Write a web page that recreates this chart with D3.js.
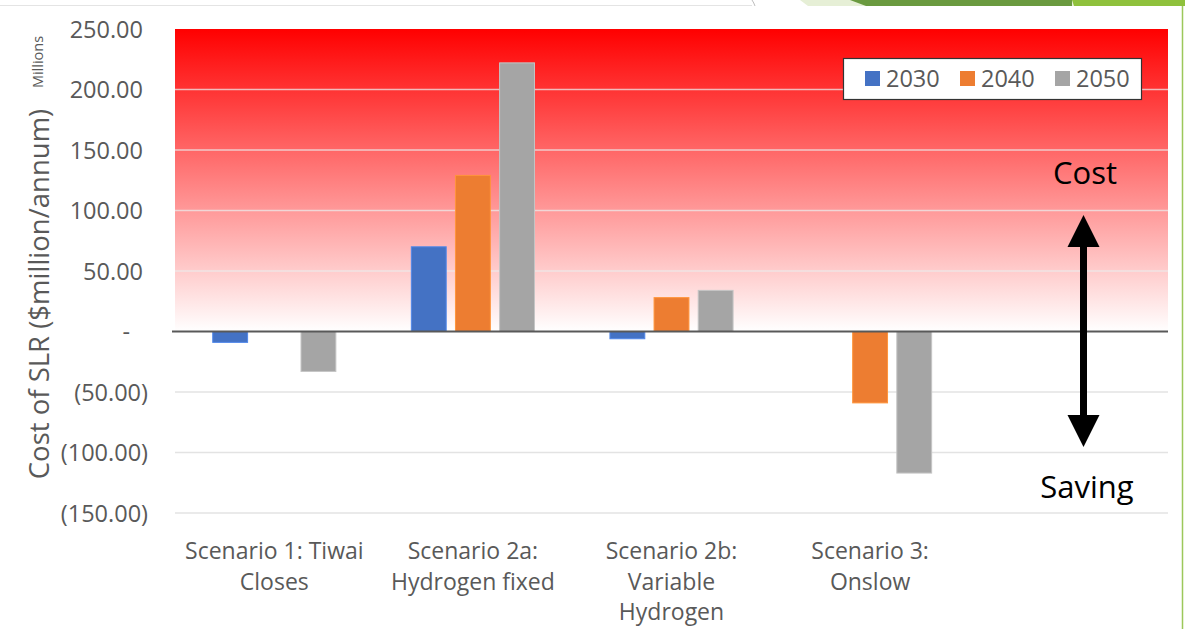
<!DOCTYPE html>
<html><head><meta charset="utf-8">
<script src="https://cdn.jsdelivr.net/npm/d3@7"></script>
<style>
html,body{margin:0;padding:0;background:#fff;}
svg{display:block;}
text{font-family:"Open Sans",sans-serif;}
</style></head>
<body>
<svg id="chart" width="1185" height="629"></svg>
<script>
// ---- data ----
const categories = ["Scenario 1: Tiwai Closes", "Scenario 2a: Hydrogen fixed", "Scenario 2b: Variable Hydrogen", "Scenario 3: Onslow", ""];
const categoryLines = [["Scenario 1: Tiwai", "Closes"], ["Scenario 2a:", "Hydrogen fixed"], ["Scenario 2b:", "Variable", "Hydrogen"], ["Scenario 3:", "Onslow"], []];
const seriesNames = ["2030", "2040", "2050"];
const values2030 = [-9, 70, -6, 0, null];
const values2040 = [0, 129, 28, -59, null];
const values2050 = [-33, 222, 34, -117, null];
const yTicks = [250, 200, 150, 100, 50, 0, -50, -100, -150];
const seriesColors = ["#4472C4", "#ED7D31", "#A5A5A5"];

const svg = d3.select("#chart");
const pLeft = 175, pRight = 1168, pTop = 29, pBottom = 513;

// slide decorations
svg.append("line").attr("x1",0).attr("x2",752).attr("y1",5.5).attr("y2",5.5).attr("stroke","#e4e4e4").attr("stroke-width",1);
svg.append("path").attr("d","M752,0 Q754,3 755,6").attr("fill","none").attr("stroke","#bdbdbd").attr("stroke-width",1);
svg.append("path").attr("d","M800,0 L1185,0 L1185,6 L808,6 Z").attr("fill","#e6efd6");
svg.append("path").attr("d","M850,0 L1072,0 L1072,6 L866,6 Z").attr("fill","#6a9a3f");
svg.append("path").attr("d","M1072,0 L1185,0 L1185,6 L1074,6 Z").attr("fill","#8fc13c");
svg.append("line").attr("x1",1182.5).attr("x2",1182.5).attr("y1",6).attr("y2",629).attr("stroke","#9cc85a").attr("stroke-width",1.5);

const x = d3.scaleBand().domain(categories).range([pLeft, pRight]).padding(0);
const bw = x.bandwidth();
const xs = d3.scaleBand().domain(seriesNames).range([bw*0.19, bw*0.81]).paddingInner(0.21).paddingOuter(0);
const y = d3.scaleLinear().domain([-150, 250]).range([pBottom, pTop]);

// gradient background for positive region
const defs = svg.append("defs");
const grad = defs.append("linearGradient").attr("id","costGrad").attr("x1",0).attr("x2",0).attr("y1",0).attr("y2",1);
grad.append("stop").attr("offset","0%").attr("stop-color","#ff0000");
grad.append("stop").attr("offset","100%").attr("stop-color","#ffffff");
svg.append("rect").attr("x",pLeft).attr("y",y(250)).attr("width",pRight-pLeft).attr("height",y(0)-y(250)).attr("fill","url(#costGrad)");

// gridlines
const gridColor = (v)=> v>0 ? "rgba(235,235,235,0.75)" : "#e3e3e3";
svg.append("g").selectAll("line").data(yTicks.filter(v=>v!==0 && v!==250)).join("line")
  .attr("x1",pLeft).attr("x2",pRight).attr("y1",d=>y(d)).attr("y2",d=>y(d))
  .attr("stroke",d=>gridColor(d)).attr("stroke-width",1.5);

// y axis labels (accounting format)
const fmt = v => v===0 ? "-" : (v<0 ? "(" + d3.format(".2f")(-v) + ")" : d3.format(".2f")(v));
const yAxis = d3.axisLeft(y).tickValues(yTicks).tickFormat(fmt).tickSize(0).tickPadding(0);
const ya = svg.append("g").attr("transform",`translate(148,0)`).call(yAxis);
ya.select(".domain").remove();
ya.selectAll("text").attr("fill","#595959").style("font-size","23.5px").attr("dy","0.35em")
  .attr("dx", d=> d===0 ? "-18px" : (d>0 ? "-5px" : "0px"));

// bars
const series = [values2030, values2040, values2050];
const barData = [];
series.forEach((vals, si) => vals.forEach((v, ci) => { if (v !== null && v !== 0) barData.push({cat:categories[ci], s:seriesNames[si], v, color:seriesColors[si]}); }));
svg.append("g").selectAll("rect").data(barData).join("rect")
  .attr("x", d => x(d.cat) + xs(d.s))
  .attr("width", xs.bandwidth())
  .attr("y", d => y(Math.max(0, d.v)))
  .attr("height", d => Math.abs(y(d.v) - y(0)))
  .attr("fill", d => d.color)
  .attr("stroke", d => d3.color(d.color).brighter(0.5))
  .attr("stroke-width", 1);

// zero axis
svg.append("line").attr("x1",pLeft-3).attr("x2",pRight).attr("y1",y(0)).attr("y2",y(0)).attr("stroke","#595959").attr("stroke-width",2);

// category labels
const cl = svg.append("g");
categories.forEach((c, i) => {
  const t = cl.append("text").attr("x", x(c) + bw/2).attr("y", 551).attr("text-anchor","middle")
    .attr("fill","#595959").style("font-size","23px");
  categoryLines[i].forEach((ln, j) => t.append("tspan").attr("x", x(c)+bw/2).attr("dy", j===0 ? "0.35em" : "30.5px").text(ln));
});

// y axis title
svg.append("text").attr("transform","translate(39,294) rotate(-90)").attr("text-anchor","middle")
  .attr("dy","0.35em").attr("fill","#595959").style("font-size","27.5px").text("Cost of SLR ($million/annum)");
svg.append("text").attr("transform","translate(38,62) rotate(-90)").attr("text-anchor","middle")
  .attr("dy","0.35em").attr("fill","#595959").style("font-size","14.5px").text("Millions");

// legend
const lg = svg.append("g");
lg.append("rect").attr("x",843.5).attr("y",58.5).attr("width",298).attr("height",41).attr("fill","#fff").attr("stroke","#333").attr("stroke-width",1.2);
const legX = [865, 960, 1055];
seriesNames.forEach((s, i) => {
  lg.append("rect").attr("x",legX[i]).attr("y",71).attr("width",15).attr("height",15).attr("fill",seriesColors[i]);
  lg.append("text").attr("x",legX[i]+21).attr("y",79).attr("dy","0.35em").attr("fill","#595959").style("font-size","23.5px").text(s);
});

// annotation: Cost / Saving arrow
svg.append("text").attr("x",1085).attr("y",173).attr("dy","0.35em").attr("text-anchor","middle").attr("fill","#000").style("font-size","31px").text("Cost");
svg.append("text").attr("x",1087).attr("y",487).attr("dy","0.35em").attr("text-anchor","middle").attr("fill","#000").style("font-size","31px").text("Saving");
const ax = 1083.5;
svg.append("rect").attr("x",ax-3.5).attr("y",244).attr("width",7).attr("height",175).attr("fill","#000");
svg.append("path").attr("d",`M${ax},215 L${ax+16},247 L${ax-16},247 Z`).attr("fill","#000");
svg.append("path").attr("d",`M${ax},447 L${ax+16},415 L${ax-16},415 Z`).attr("fill","#000");
</script>
</body></html>
